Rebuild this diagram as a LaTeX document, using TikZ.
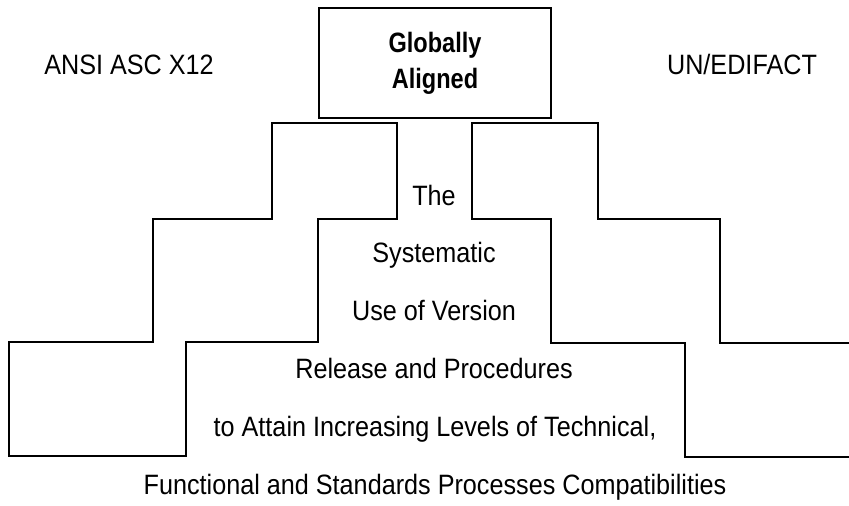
\documentclass[tikz,border=0pt]{standalone}
\usepackage{fontspec}
\newfontfamily\condfont{Liberation Sans}[FakeStretch=0.9]
\newfontfamily\condbfont{Liberation Sans Bold}[FakeStretch=0.84]
\begin{document}
\begin{tikzpicture}[x=1pt,y=-1pt,
  outline/.style={line width=2pt, line join=miter},
  lbl/.style={font=\fontsize{28}{36}\selectfont\condfont, inner sep=0pt, anchor=base},
  boldlbl/.style={font=\fontsize{28}{36}\selectfont\condbfont, align=center, draw, line width=2pt,
     minimum width=232pt, minimum height=110pt, inner sep=0pt}]
\useasboundingbox (0,0) rectangle (849,506);
% top box
\node[boldlbl] (box) at (435,63) {Globally\\Aligned};
% side labels
\node[lbl] (ansi) at (129,74) {ANSI ASC X12};
\node[lbl] (edi) at (742,74) {UN/EDIFACT};
% left staircase
\draw[outline] (9,342) -- (153,342) -- (153,219) -- (272,219) -- (272,123)
  -- (397,123) -- (397,219) -- (318,219) -- (318,342) -- (186,342)
  -- (186,456) -- (9,456) -- cycle;
% right staircase (open at right)
\draw[outline] (849,343) -- (720,343) -- (720,219) -- (598,219) -- (598,123)
  -- (472,123) -- (472,219) -- (551,219) -- (551,343) -- (685,343)
  -- (685,457) -- (849,457);
% central text
\node[lbl] (l1) at (434,205) {The};
\node[lbl] (l2) at (434,262) {Systematic};
\node[lbl] (l3) at (434,320) {Use of Version};
\node[lbl] (l4) at (434,378) {Release and Procedures};
\node[lbl] (l5) at (435,436) {to Attain Increasing Levels of Technical,};
\node[lbl] (l6) at (435,494) {Functional and Standards Processes Compatibilities};
\end{tikzpicture}
\end{document}
